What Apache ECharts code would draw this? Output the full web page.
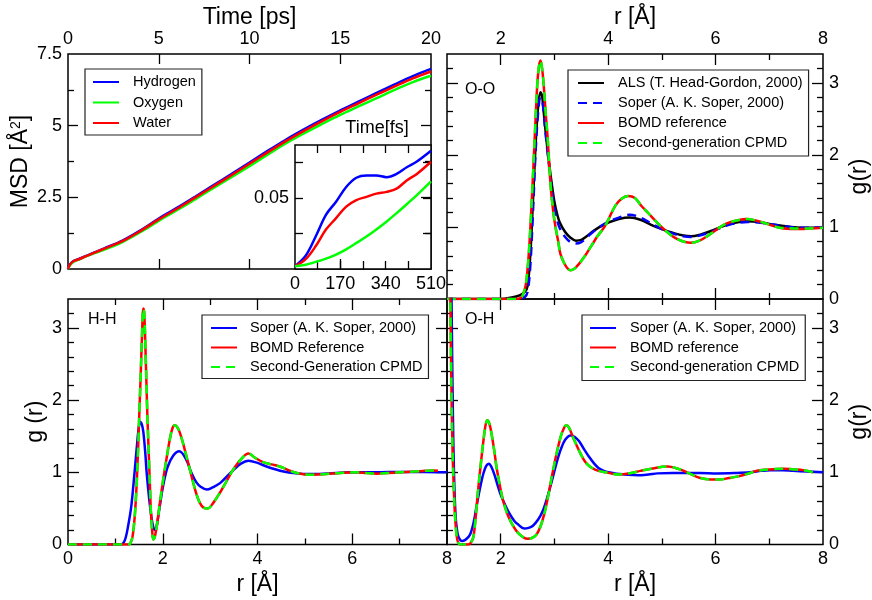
<!DOCTYPE html>
<html><head><meta charset="utf-8">
<script src="https://cdn.jsdelivr.net/npm/echarts@6/dist/echarts.min.js"></script>
<style>html,body{margin:0;padding:0;background:#fff}#c{width:872px;height:600px}</style>
</head><body><div id="c"></div>
<script>
// ---------------- DATA ----------------
// MSD (main plot), time in ps
const msdTime = [0, 0.1, 0.3, 0.6, 1, 1.5, 2, 3, 4, 5, 6, 7, 8, 9, 10, 11, 12, 13, 14, 15, 16, 17, 18, 19, 20];
const msdHydrogen = [0, 0.16, 0.28, 0.35, 0.46, 0.59, 0.72, 0.99, 1.35, 1.76, 2.13, 2.52, 2.92, 3.31, 3.71, 4.12, 4.51, 4.87, 5.21, 5.53, 5.84, 6.14, 6.44, 6.73, 6.98];
const msdOxygen = [0, 0.12, 0.25, 0.33, 0.44, 0.56, 0.68, 0.94, 1.29, 1.68, 2.05, 2.43, 2.82, 3.2, 3.59, 3.99, 4.38, 4.73, 5.06, 5.38, 5.67, 5.96, 6.25, 6.52, 6.74];
const msdWater = [0, 0.15, 0.27, 0.34, 0.45, 0.58, 0.71, 0.97, 1.33, 1.73, 2.1, 2.49, 2.88, 3.27, 3.67, 4.07, 4.46, 4.82, 5.16, 5.48, 5.78, 6.08, 6.37, 6.65, 6.89];
// MSD inset, time in fs
const insetTime = [0, 40, 78, 116, 154, 192, 230, 268, 305, 343, 381, 419, 457, 510];
const insetHydrogen = [0.002, 0.0093, 0.0231, 0.0382, 0.0475, 0.0579, 0.0644, 0.066, 0.066, 0.0648, 0.0671, 0.0718, 0.0759, 0.0835];
const insetWater = [0.002, 0.0069, 0.0162, 0.0278, 0.0359, 0.044, 0.0486, 0.0509, 0.0532, 0.0544, 0.0567, 0.0625, 0.0671, 0.0757];
const insetOxygen = [0.002, 0.003, 0.005, 0.0073, 0.0102, 0.0139, 0.0183, 0.0229, 0.0279, 0.0334, 0.0394, 0.0457, 0.0521, 0.0618];

// O-O g(r)
const ooAlsR = [1.0, 2.0, 2.2, 2.35, 2.45, 2.5, 2.55, 2.6, 2.65, 2.7, 2.74, 2.77, 2.8, 2.85, 2.9, 2.95, 3.0, 3.05, 3.1, 3.2, 3.3, 3.4, 3.5, 3.6, 3.7, 3.8, 3.9, 4.0, 4.2, 4.4, 4.6, 4.8, 5.0, 5.2, 5.4, 5.55, 5.7, 5.9, 6.1, 6.3, 6.6, 6.8, 7.0, 7.2, 7.4, 7.6, 7.8, 8.0];
const ooAlsG = [0, 0, 0.02, 0.05, 0.1, 0.18, 0.6, 1.35, 2.15, 2.7, 2.87, 2.82, 2.6, 2.22, 1.89, 1.6, 1.35, 1.18, 1.06, 0.93, 0.85, 0.81, 0.82, 0.87, 0.93, 0.98, 1.02, 1.06, 1.11, 1.13, 1.1, 1.03, 0.97, 0.92, 0.88, 0.87, 0.89, 0.94, 1.0, 1.05, 1.08, 1.07, 1.04, 1.02, 1.0, 0.99, 0.99, 0.99];
const ooSoperR = [1.0, 2.3, 2.45, 2.5, 2.55, 2.6, 2.65, 2.7, 2.74, 2.78, 2.82, 2.87, 2.92, 2.97, 3.02, 3.1, 3.2, 3.3, 3.4, 3.5, 3.6, 3.7, 3.8, 3.9, 4.0, 4.2, 4.4, 4.6, 4.8, 5.0, 5.2, 5.4, 5.55, 5.7, 5.9, 6.1, 6.3, 6.6, 6.8, 7.0, 7.2, 7.4, 7.6, 7.8, 8.0];
const ooSoperG = [0, 0, 0.03, 0.1, 0.45, 1.2, 2.05, 2.62, 2.8, 2.72, 2.42, 2.05, 1.72, 1.42, 1.18, 0.98, 0.86, 0.79, 0.77, 0.79, 0.85, 0.92, 0.98, 1.03, 1.07, 1.13, 1.17, 1.13, 1.05, 0.97, 0.91, 0.87, 0.86, 0.88, 0.93, 0.99, 1.04, 1.07, 1.06, 1.04, 1.02, 1.0, 0.99, 0.99, 1.0];
const ooBomdR = [1.0, 2.3, 2.38, 2.42, 2.47, 2.52, 2.56, 2.6, 2.64, 2.68, 2.71, 2.74, 2.77, 2.8, 2.84, 2.87, 2.93, 2.98, 3.02, 3.07, 3.11, 3.18, 3.25, 3.3, 3.37, 3.45, 3.57, 3.69, 3.8, 3.94, 4.13, 4.25, 4.37, 4.5, 4.62, 4.75, 4.86, 5.05, 5.29, 5.54, 5.7, 5.9, 6.05, 6.21, 6.4, 6.58, 6.75, 6.89, 7.05, 7.19, 7.44, 7.6, 7.75, 8.0];
const ooBomdG = [0, 0, 0.02, 0.07, 0.21, 0.6, 1.1, 1.7, 2.35, 2.97, 3.22, 3.31, 3.2, 2.97, 2.55, 2.27, 1.57, 1.2, 1.0, 0.8, 0.63, 0.5, 0.42, 0.4, 0.42, 0.48, 0.6, 0.74, 0.87, 1.01, 1.29, 1.39, 1.43, 1.4, 1.29, 1.19, 1.1, 0.96, 0.83, 0.78, 0.81, 0.9, 0.98, 1.05, 1.09, 1.11, 1.09, 1.06, 1.02, 0.99, 0.97, 0.97, 0.98, 0.99];
const ooCpmdR = ooBomdR;
const ooCpmdG = [0, 0, 0.02, 0.07, 0.21, 0.6, 1.1, 1.7, 2.35, 2.97, 3.22, 3.31, 3.2, 2.97, 2.55, 2.27, 1.57, 1.2, 1.0, 0.8, 0.63, 0.5, 0.42, 0.4, 0.42, 0.48, 0.6, 0.74, 0.87, 1.01, 1.29, 1.39, 1.43, 1.4, 1.29, 1.19, 1.1, 0.96, 0.83, 0.78, 0.81, 0.9, 0.98, 1.05, 1.09, 1.11, 1.09, 1.06, 1.02, 0.99, 0.98, 0.98, 0.98, 0.99];

// H-H g(r)
const hhSoperR = [0, 1.1, 1.17, 1.22, 1.27, 1.33, 1.38, 1.45, 1.49, 1.52, 1.56, 1.59, 1.63, 1.66, 1.7, 1.73, 1.77, 1.8, 1.83, 1.87, 1.93, 2.01, 2.1, 2.22, 2.35, 2.5, 2.6, 2.71, 2.8, 2.93, 3.05, 3.21, 3.35, 3.49, 3.65, 3.81, 4.0, 4.19, 4.55, 4.8, 5.11, 5.5, 5.95, 6.5, 7.0, 7.5, 8.0];
const hhSoperG = [0, 0, 0.02, 0.1, 0.26, 0.5, 0.82, 1.33, 1.6, 1.7, 1.66, 1.56, 1.28, 1.0, 0.72, 0.54, 0.34, 0.24, 0.2, 0.25, 0.5, 0.82, 1.07, 1.23, 1.29, 1.17, 1.0, 0.86, 0.8, 0.76, 0.79, 0.85, 0.94, 1.03, 1.12, 1.16, 1.13, 1.08, 1.01, 0.985, 0.975, 0.985, 1.0, 1.0, 1.005, 1.005, 1.0];
const hhBomdR = [0, 1.28, 1.31, 1.36, 1.41, 1.45, 1.48, 1.51, 1.53, 1.56, 1.59, 1.61, 1.64, 1.67, 1.7, 1.73, 1.75, 1.78, 1.8, 1.83, 1.88, 1.94, 2.01, 2.08, 2.15, 2.2, 2.25, 2.3, 2.36, 2.43, 2.5, 2.58, 2.65, 2.71, 2.78, 2.86, 2.95, 3.07, 3.21, 3.35, 3.49, 3.65, 3.81, 3.95, 4.12, 4.3, 4.47, 4.65, 4.83, 5.0, 5.18, 5.45, 5.74, 6.05, 6.3, 6.52, 6.75, 7.01, 7.3, 7.55, 7.71, 7.81];
const hhBomdG = [0, 0, 0.01, 0.1, 0.4, 0.85, 1.33, 1.9, 2.26, 2.85, 3.27, 3.2, 2.6, 1.9, 1.33, 0.8, 0.45, 0.16, 0.07, 0.1, 0.28, 0.58, 0.9, 1.19, 1.46, 1.6, 1.65, 1.63, 1.55, 1.4, 1.22, 1.02, 0.84, 0.7, 0.58, 0.51, 0.5, 0.58, 0.72, 0.88, 1.04, 1.18, 1.26, 1.2, 1.14, 1.11, 1.08, 1.03, 0.99, 0.97, 0.965, 0.975, 0.99, 1.0, 0.99, 0.98, 0.99, 1.0, 1.01, 1.02, 1.025, 1.02];
const hhCpmdR = hhBomdR;
const hhCpmdG = [0, 0, 0.01, 0.1, 0.4, 0.85, 1.33, 1.9, 2.26, 2.85, 3.27, 3.2, 2.6, 1.9, 1.33, 0.8, 0.45, 0.16, 0.07, 0.1, 0.28, 0.58, 0.9, 1.19, 1.46, 1.6, 1.65, 1.63, 1.55, 1.4, 1.22, 1.02, 0.84, 0.7, 0.58, 0.51, 0.5, 0.58, 0.72, 0.88, 1.04, 1.18, 1.26, 1.2, 1.14, 1.11, 1.08, 1.03, 0.99, 0.97, 0.965, 0.975, 0.99, 1.0, 0.99, 0.98, 0.99, 1.0, 1.01, 1.02, 1.025, 1.02];

// O-H g(r)
const ohSoperR = [1.0, 1.06, 1.09, 1.11, 1.13, 1.16, 1.2, 1.25, 1.29, 1.35, 1.43, 1.5, 1.55, 1.62, 1.68, 1.73, 1.78, 1.83, 1.89, 1.95, 2.01, 2.1, 2.17, 2.25, 2.32, 2.44, 2.52, 2.6, 2.7, 2.78, 2.87, 2.96, 3.04, 3.12, 3.2, 3.3, 3.38, 3.46, 3.55, 3.64, 3.73, 3.82, 3.92, 4.01, 4.15, 4.31, 4.55, 4.75, 4.92, 5.2, 5.41, 5.7, 6.03, 6.35, 6.64, 6.85, 7.01, 7.25, 7.44, 7.7, 8.0];
const ohSoperG = [8, 5, 3.0, 1.8, 1.0, 0.4, 0.14, 0.06, 0.05, 0.07, 0.14, 0.32, 0.53, 0.8, 0.99, 1.09, 1.12, 1.07, 0.95, 0.8, 0.67, 0.52, 0.42, 0.33, 0.28, 0.22, 0.23, 0.26, 0.35, 0.46, 0.66, 0.9, 1.13, 1.32, 1.45, 1.51, 1.49, 1.43, 1.32, 1.22, 1.13, 1.06, 1.02, 1.0, 0.98, 0.97, 0.96, 0.97, 0.985, 0.99, 0.99, 0.99, 0.985, 0.99, 1.0, 1.02, 1.03, 1.03, 1.02, 1.01, 1.0];
const ohBomdR = [1.0, 1.04, 1.06, 1.08, 1.1, 1.13, 1.15, 1.18, 1.21, 1.25, 1.4, 1.44, 1.49, 1.53, 1.58, 1.63, 1.68, 1.72, 1.75, 1.79, 1.83, 1.88, 1.92, 1.98, 2.04, 2.12, 2.2, 2.28, 2.35, 2.42, 2.5, 2.58, 2.66, 2.74, 2.81, 2.88, 2.96, 3.04, 3.12, 3.17, 3.22, 3.27, 3.36, 3.44, 3.52, 3.6, 3.7, 3.82, 3.95, 4.19, 4.43, 4.6, 4.8, 5.11, 5.3, 5.41, 5.55, 5.72, 5.9, 6.06, 6.25, 6.4, 6.6, 6.77, 7.0, 7.26, 7.45, 7.63, 7.81];
const ohBomdG = [10, 5.5, 3.6, 2.3, 1.4, 0.7, 0.39, 0.12, 0.02, 0, 0, 0.02, 0.1, 0.35, 0.76, 1.12, 1.45, 1.66, 1.72, 1.67, 1.53, 1.3, 1.08, 0.83, 0.62, 0.43, 0.3, 0.2, 0.14, 0.1, 0.08, 0.09, 0.13, 0.25, 0.42, 0.66, 0.97, 1.26, 1.5, 1.6, 1.65, 1.62, 1.46, 1.33, 1.21, 1.12, 1.06, 1.02, 1.0, 0.97, 0.99, 1.02, 1.05, 1.08, 1.05, 1.02, 0.97, 0.92, 0.9, 0.9, 0.92, 0.94, 0.98, 1.02, 1.04, 1.05, 1.04, 1.03, 1.0];
const ohCpmdR = ohBomdR;
const ohCpmdG = [10, 5.5, 3.6, 2.3, 1.4, 0.7, 0.39, 0.12, 0.02, 0, 0, 0.02, 0.1, 0.35, 0.76, 1.12, 1.45, 1.66, 1.72, 1.67, 1.53, 1.3, 1.08, 0.83, 0.62, 0.43, 0.3, 0.2, 0.14, 0.1, 0.08, 0.09, 0.13, 0.25, 0.42, 0.66, 0.97, 1.26, 1.5, 1.6, 1.65, 1.62, 1.46, 1.33, 1.21, 1.12, 1.06, 1.02, 1.0, 0.97, 0.99, 1.02, 1.05, 1.08, 1.05, 1.02, 0.97, 0.92, 0.9, 0.9, 0.92, 0.94, 0.98, 1.02, 1.04, 1.05, 1.04, 1.03, 1.0];

// tick labels
const msdTimeLabels = [0, 5, 10, 15, 20];
const msdValueLabels = [0, 2.5, 5, 7.5];
const insetTimeLabels = [0, 170, 340, 510];
const insetValueLabels = [0.05];
const rLabelsFull = [0, 2, 4, 6, 8];
const rLabelsRight = [2, 4, 6, 8];
const gLabels = [0, 1, 2, 3];

const legendNames = {
  msdH: 'Hydrogen', msdO: 'Oxygen', msdW: 'Water',
  ooALS: 'ALS (T. Head-Gordon, 2000)', ooSoper: 'Soper (A. K. Soper, 2000)', ooBOMD: 'BOMD reference', ooCPMD: 'Second-generation CPMD',
  hhSoper: 'Soper (A. K. Soper, 2000)', hhBOMD: 'BOMD Reference', hhCPMD: 'Second-Generation CPMD',
  ohSoper: 'Soper (A. K. Soper, 2000)', ohBOMD: 'BOMD reference', ohCPMD: 'Second-generation CPMD'
};

// ---------------- LAYOUT / BUILD ----------------
const FONT = 'Liberation Sans';
const BLUE = '#0000ff', RED = '#ff0000', GREEN = '#00ff00', BLACK = '#000000';
const DASH = [9, 6];
const grids = [], xAxes = [], yAxes = [];

function range(a, b, s) { const out = []; for (let v = a; v <= b + 1e-9; v += s) out.push(Math.round(v * 1e6) / 1e6); return out; }

function mkAxis(gi, pos, spec, ticks, len, showLabels, showName) {
  const o = {
    gridIndex: gi, type: 'value', position: pos, min: spec.min, max: spec.max,
    axisLine: { show: false, onZero: false }, splitLine: { show: false }, minorTick: { show: false },
    axisTick: { show: ticks.length > 0, inside: true, length: len, customValues: ticks.length ? ticks : undefined,
      lineStyle: { color: '#000', width: 1.3 } },
    axisLabel: { show: !!showLabels, inside: false, color: '#000', fontSize: 18, fontFamily: FONT, margin: spec.labelMargin || 6 },
    axisPointer: { show: false }
  };
  if (showLabels) o.axisLabel.customValues = spec.labels;
  if (showName) {
    o.name = spec.name;
    o.nameLocation = 'middle';
    o.nameGap = spec.nameGap;
    if (spec.nameRotate !== undefined) o.nameRotate = spec.nameRotate;
    o.nameTextStyle = Object.assign({ fontSize: 23, fontFamily: FONT, color: '#000' }, spec.nameStyle || {});
  }
  return o;
}

// all four axes of a side pair live in one grid; the 3rd/4th axis of a direction
// are moved by ECharts to the still-free opposite side, so minor ticks appear on both sides
function addPanel(rect, xs, ys, bg) {
  const gi = grids.length;
  grids.push(Object.assign({ show: true, borderColor: '#000', borderWidth: 1.5, backgroundColor: bg || 'transparent' }, rect));
  const xi = xAxes.length, yi = yAxes.length;
  ['bottom', 'top'].forEach(p => xAxes.push(mkAxis(gi, p, xs, xs.major, xs.majorLen, xs.labelPos === p, xs.namePos === p)));
  ['left', 'right'].forEach(p => yAxes.push(mkAxis(gi, p, ys, ys.major, ys.majorLen, ys.labelPos === p, ys.namePos === p)));
  ['bottom', 'top'].forEach(p => xAxes.push(mkAxis(gi, p, xs, xs.minor, xs.minorLen, false, false)));
  ['left', 'right'].forEach(p => yAxes.push(mkAxis(gi, p, ys, ys.minor, ys.minorLen, false, false)));
  return { xi, yi };
}

const pMSD = addPanel({ left: 68, top: 54, width: 363, height: 215 },
  { min: 0, max: 20, major: [5, 10, 15], minor: [], majorLen: 10, minorLen: 6, labels: msdTimeLabels, labelPos: 'top', name: 'Time [ps]', namePos: 'top', nameGap: 25 },
  { min: 0, max: 7.5, major: [2.5, 5], minor: [1.25, 3.75, 6.25], majorLen: 10, minorLen: 6, labels: msdValueLabels, labelPos: 'left', name: 'MSD [Å{sup|2}]', namePos: 'left', nameGap: 36, nameRotate: 90,
    nameStyle: { rich: { sup: { fontSize: 14, verticalAlign: 'top', fontFamily: FONT, color: '#000' } } } });

const pInset = addPanel({ left: 295, top: 145, width: 136, height: 124 },
  { min: 0, max: 510, major: [85, 170, 255, 340, 425], minor: [], majorLen: 8, minorLen: 5, labels: insetTimeLabels, labelPos: 'bottom', name: 'Time[fs]', namePos: 'top', nameGap: 8,
    nameStyle: { fontSize: 18, padding: [0, 0, 0, 28] } },
  { min: 0, max: 0.0875, major: [0.025, 0.05, 0.075], minor: [], majorLen: 8, minorLen: 5, labels: insetValueLabels, labelPos: 'left' }, '#ffffff');

const gMinor = range(0.2, 3.2, 0.2).filter(v => Math.abs(v - Math.round(v)) > 1e-6);

const pOO = addPanel({ left: 447, top: 54, width: 380, height: 245 },
  { min: 1, max: 8, major: [2, 4, 6], minor: [3, 5, 7], majorLen: 11, minorLen: 6, labels: rLabelsRight, labelPos: 'top', name: 'r [Å]', namePos: 'top', nameGap: 25 },
  { min: 0, max: 3.4, major: [1, 2, 3], minor: gMinor, majorLen: 11, minorLen: 6, labels: gLabels, labelPos: 'right', name: 'g(r)', namePos: 'right', nameGap: 25, nameRotate: 90 });

const pHH = addPanel({ left: 68, top: 299, width: 379, height: 245.5 },
  { min: 0, max: 8, major: [2, 4, 6], minor: [1, 3, 5, 7], majorLen: 11, minorLen: 6, labels: rLabelsFull, labelPos: 'bottom', name: 'r [Å]', namePos: 'bottom', nameGap: 29 },
  { min: 0, max: 3.4, major: [1, 2, 3], minor: gMinor, majorLen: 11, minorLen: 6, labels: gLabels, labelPos: 'left', name: 'g (r)', namePos: 'left', nameGap: 21, nameRotate: 90 });

const pOH = addPanel({ left: 447, top: 299, width: 380, height: 245.5 },
  { min: 1, max: 8, major: [2, 4, 6], minor: [3, 5, 7], majorLen: 11, minorLen: 6, labels: rLabelsRight, labelPos: 'bottom', name: 'r [Å]', namePos: 'bottom', nameGap: 29 },
  { min: 0, max: 3.4, major: [1, 2, 3], minor: gMinor, majorLen: 11, minorLen: 6, labels: gLabels, labelPos: 'right', name: 'g(r)', namePos: 'right', nameGap: 25, nameRotate: 90 });

function pairs(xs, ys) { return xs.map((x, i) => [x, ys[i]]); }
function line(name, p, xs, ys, color, dashed, z) {
  return {
    type: 'line', name, xAxisIndex: p.xi, yAxisIndex: p.yi, data: pairs(xs, ys),
    symbol: 'none', showSymbol: false, smooth: 0.35, clip: true, silent: true, animation: false, z: z || 2,
    lineStyle: { color, width: 2.5, type: dashed ? DASH : 'solid' }, itemStyle: { color }
  };
}

const series = [
  line('msdH', pMSD, msdTime, msdHydrogen, BLUE, false),
  line('msdO', pMSD, msdTime, msdOxygen, GREEN, false),
  line('msdW', pMSD, msdTime, msdWater, RED, false),
  line('insetH', pInset, insetTime, insetHydrogen, BLUE, false, 5),
  line('insetW', pInset, insetTime, insetWater, RED, false, 5),
  line('insetO', pInset, insetTime, insetOxygen, GREEN, false, 5),
  line('ooALS', pOO, ooAlsR, ooAlsG, BLACK, false),
  line('ooSoper', pOO, ooSoperR, ooSoperG, BLUE, true),
  line('ooBOMD', pOO, ooBomdR, ooBomdG, RED, false),
  line('ooCPMD', pOO, ooCpmdR, ooCpmdG, GREEN, true),
  line('hhSoper', pHH, hhSoperR, hhSoperG, BLUE, false),
  line('hhBOMD', pHH, hhBomdR, hhBomdG, RED, false),
  line('hhCPMD', pHH, hhCpmdR, hhCpmdG, GREEN, true),
  line('ohSoper', pOH, ohSoperR, ohSoperG, BLUE, false),
  line('ohBOMD', pOH, ohBomdR, ohBomdG, RED, false),
  line('ohCPMD', pOH, ohCpmdR, ohCpmdG, GREEN, true)
];

function legend(data, left, top, gap, padding, textPad) {
  return {
    data, left, top, orient: 'vertical', selectedMode: false, formatter: n => legendNames[n],
    itemWidth: 26, itemHeight: 15, itemGap: gap, padding,
    borderColor: '#222', borderWidth: 1.2, backgroundColor: '#ffffff',
    itemStyle: { color: 'rgba(0,0,0,0)', borderColor: 'rgba(0,0,0,0)', borderWidth: 0, opacity: 0 },
    textStyle: { fontSize: 14.5, fontFamily: FONT, color: '#000', lineHeight: 15, padding: [0, 0, 0, textPad] }
  };
}

const option = {
  animation: false,
  backgroundColor: '#ffffff',
  grid: grids, xAxis: xAxes, yAxis: yAxes, series,
  legend: [
    legend(['msdH', 'msdO', 'msdW'], 85, 69, 5.5, [5.5, 6, 4.5, 7], 9),
    legend(['ooALS', 'ooSoper', 'ooBOMD', 'ooCPMD'], 568, 70, 5, [5.5, 6, 5.5, 9], 9),
    legend(['hhSoper', 'hhBOMD', 'hhCPMD'], 202, 315, 4.5, [5.5, 6, 4, 8], 8),
    legend(['ohSoper', 'ohBOMD', 'ohCPMD'], 582, 315, 4.5, [5.5, 6, 6, 7], 9)
  ],
  graphic: [
    { type: 'text', left: 465, top: 82, z: 50, style: { text: 'O-O', fontSize: 16, fontFamily: FONT, fill: '#000' } },
    { type: 'text', left: 88, top: 312, z: 50, style: { text: 'H-H', fontSize: 16, fontFamily: FONT, fill: '#000' } },
    { type: 'text', left: 465, top: 312, z: 50, style: { text: 'O-H', fontSize: 16, fontFamily: FONT, fill: '#000' } }
  ]
};

const chart = echarts.init(document.getElementById('c'), null, { renderer: 'canvas' });
chart.setOption(option);
</script></body></html>
